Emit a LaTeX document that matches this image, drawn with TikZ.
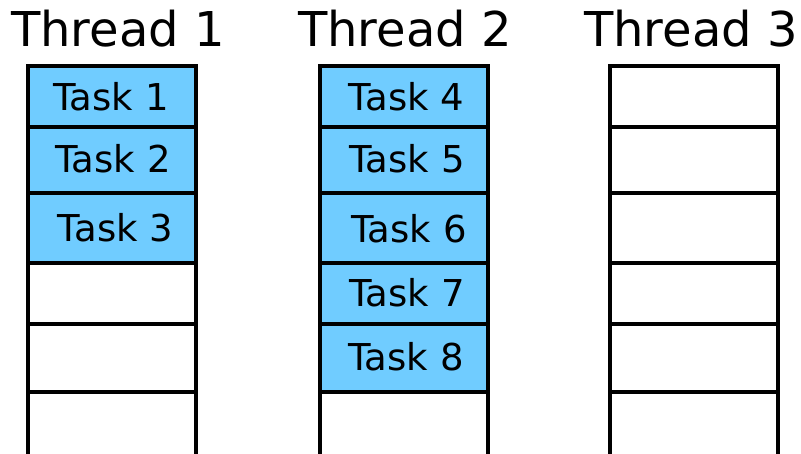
\documentclass[tikz,border=0pt]{standalone}
\usepackage{fontspec}
\setmainfont{DejaVu Sans}
\definecolor{taskblue}{HTML}{70CCFF}
\tikzset{
  slot/.style={draw=black, line width=3.3pt, inner sep=0pt, outer sep=0pt,
    minimum width=168pt, anchor=north west, fill=white},
  busy/.style={slot, fill=taskblue},
  tasklabel/.style={inner sep=0pt, anchor=base, font=\fontsize{37}{40}\selectfont},
  threadlabel/.style={inner sep=0pt, anchor=base, font=\fontsize{48}{52}\selectfont},
}
\begin{document}
\begin{tikzpicture}[x=1pt, y=-1pt]
  \useasboundingbox (0,0) rectangle (801,454);
  \clip (0,0) rectangle (801,454);

  % thread headings
  \node[threadlabel] (h1) at (118,46.7) {Thread 1};
  \node[threadlabel] (h2) at (405,46.7) {Thread 2};
  \node[threadlabel] (h3) at (691,46.7) {Thread 3};

  % row boundaries: 66, 127, 193, 263, 324, 392, (open bottom)
  % Thread 1
  \node[busy, minimum height=61pt] (a1) at (28,66) {};
  \node[busy, minimum height=66pt] (a2) at (28,127) {};
  \node[busy, minimum height=70pt] (a3) at (28,193) {};
  \node[slot, minimum height=61pt] (a4) at (28,263) {};
  \node[slot, minimum height=68pt] (a5) at (28,324) {};
  \node[slot, minimum height=90pt] (a6) at (28,392) {};

  % Thread 2
  \node[busy, minimum height=61pt] (b1) at (320,66) {};
  \node[busy, minimum height=66pt] (b2) at (320,127) {};
  \node[busy, minimum height=70pt] (b3) at (320,193) {};
  \node[busy, minimum height=61pt] (b4) at (320,263) {};
  \node[busy, minimum height=68pt] (b5) at (320,324) {};
  \node[slot, minimum height=90pt] (b6) at (320,392) {};

  % Thread 3
  \node[slot, minimum height=61pt] (c1) at (610,66) {};
  \node[slot, minimum height=66pt] (c2) at (610,127) {};
  \node[slot, minimum height=70pt] (c3) at (610,193) {};
  \node[slot, minimum height=61pt] (c4) at (610,263) {};
  \node[slot, minimum height=68pt] (c5) at (610,324) {};
  \node[slot, minimum height=90pt] (c6) at (610,392) {};

  % task names
  \node[tasklabel] (t1) at (111,111) {Task 1};
  \node[tasklabel] (t2) at (113,173) {Task 2};
  \node[tasklabel] (t3) at (115.5,242) {Task 3};
  \node[tasklabel] (t4) at (406.5,110.7) {Task 4};
  \node[tasklabel] (t5) at (407,173) {Task 5};
  \node[tasklabel] (t6) at (409,243) {Task 6};
  \node[tasklabel] (t7) at (407,306.5) {Task 7};
  \node[tasklabel] (t8) at (406,370.5) {Task 8};
\end{tikzpicture}
\end{document}
